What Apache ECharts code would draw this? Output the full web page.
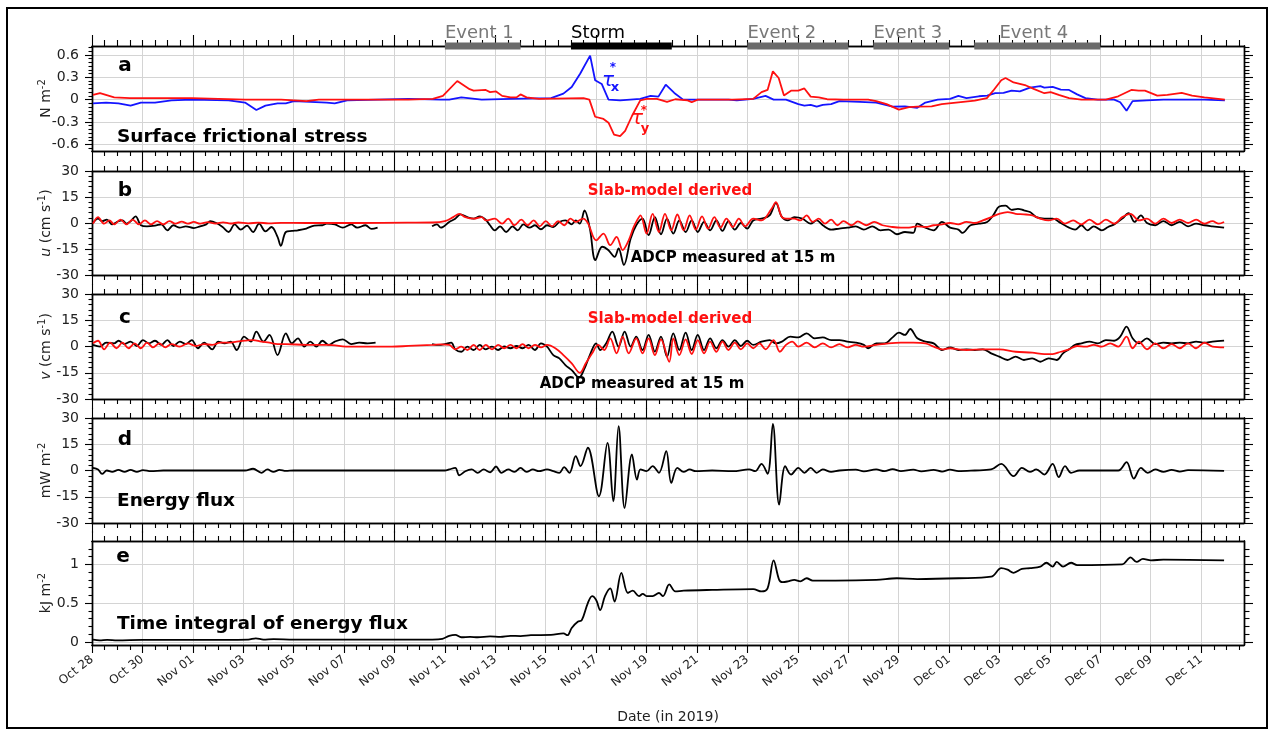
<!DOCTYPE html>
<html><head><meta charset="utf-8">
<script src="https://cdn.jsdelivr.net/npm/echarts@6/dist/echarts.min.js"></script>
<style>html,body{margin:0;padding:0;background:#fff}#c{width:1273px;height:736px}</style>
</head><body><div id="c"></div>
<script>
const FONT = 'DejaVu Sans';
// x values are days since 2019-10-28 00:00
const X_MAX = 45.7;
const dateTickDays = [0,2,4,6,8,10,12,14,16,18,20,22,24,26,28,30,32,34,36,38,40,42,44];
const dateTickLabels = ['Oct 28','Oct 30','Nov 01','Nov 03','Nov 05','Nov 07','Nov 09','Nov 11','Nov 13','Nov 15','Nov 17','Nov 19','Nov 21','Nov 23','Nov 25','Nov 27','Nov 29','Dec 01','Dec 03','Dec 05','Dec 07','Dec 09','Dec 11'];

const eventNames = ['Event 1','Storm','Event 2','Event 3','Event 4'];
const eventStart = [14,19,26,31,35];
const eventEnd = [17,23,30,34,40];
const eventLabelAt = [14,19,26,31,36];

const stressTicks = [-0.6,-0.3,0,0.3,0.6];
const velTicks = [-30,-15,0,15,30];
const fluxTicks = [-30,-15,0,15,30];
const integralTicks = [0,0.5,1];

const tauX = [[0.04,-0.05],[0.56,-0.04],[1.05,-0.05],[1.53,-0.08],[1.94,-0.04],[2.5,-0.04],[3.15,-0.01],[3.96,0],[5.42,-0.01],[6.07,-0.04],[6.52,-0.14],[6.88,-0.08],[7.36,-0.05],[7.69,-0.05],[8.01,-0.02],[9.31,-0.04],[9.63,-0.05],[10.12,-0.01],[12.55,0.01],[13.84,0.0],[14.17,0.0],[14.65,0.03],[15.46,0.0],[16.6,0.01],[18.21,0.02],[18.7,0.08],[19.03,0.17],[19.37,0.35],[19.76,0.59],[19.96,0.26],[20.22,0.21],[20.49,0.0],[20.95,-0.01],[21.75,0.01],[22.16,0.05],[22.47,0.04],[22.76,0.2],[23.1,0.09],[23.45,0.0],[24.6,0.0],[25.25,0.0],[25.58,-0.01],[26.23,0.01],[26.72,0.05],[27.04,0.0],[27.53,0.0],[28.02,-0.06],[28.26,-0.08],[28.51,-0.07],[28.75,-0.095],[28.99,-0.07],[29.32,-0.06],[29.65,-0.02],[30.46,-0.03],[31.11,-0.04],[31.76,-0.095],[32.25,-0.09],[32.74,-0.11],[33.06,-0.04],[33.55,0.0],[34.04,0.01],[34.37,0.05],[34.69,0.02],[35.18,0.045],[35.51,0.054],[35.83,0.086],[36.16,0.09],[36.48,0.12],[36.81,0.11],[37.21,0.16],[37.62,0.18],[37.78,0.16],[38.11,0.17],[38.43,0.135],[38.76,0.13],[39.08,0.07],[39.41,0.02],[39.9,0.0],[40.55,0.0],[40.79,-0.036],[41.04,-0.15],[41.28,-0.02],[41.85,-0.01],[42.5,0.0],[44.13,0.0],[44.94,-0.01]];

const tauY = [[0.04,0.063],[0.32,0.086],[0.88,0.03],[1.5,0.02],[3.96,0.02],[6.07,0.0],[7.5,0.0],[8.5,-0.02],[9.0,0.0],[12.55,0.0],[13.52,0.01],[13.92,0.05],[14.49,0.25],[14.98,0.14],[15.14,0.12],[15.62,0.13],[15.79,0.1],[16.03,0.11],[16.27,0.05],[16.6,0.03],[16.84,0.03],[17.0,0.07],[17.24,0.03],[17.73,0.01],[19.5,0.02],[19.73,0.0],[19.96,-0.23],[20.29,-0.26],[20.49,-0.31],[20.71,-0.47],[20.95,-0.49],[21.15,-0.42],[21.42,-0.22],[21.75,-0.01],[22.01,0.01],[22.41,0.01],[22.81,-0.03],[23.14,0.005],[23.63,-0.01],[23.79,-0.036],[24.03,0.0],[25.42,0.0],[26.23,0.01],[26.56,0.1],[26.8,0.13],[27.01,0.38],[27.24,0.29],[27.45,0.054],[27.73,0.12],[28.02,0.12],[28.26,0.15],[28.51,0.04],[28.83,0.03],[29.16,0.005],[29.81,0.0],[30.79,0.0],[31.11,-0.02],[31.52,-0.06],[32.01,-0.135],[32.41,-0.1],[32.74,-0.095],[33.31,-0.09],[33.71,-0.06],[34.37,-0.036],[35.02,-0.014],[35.5,0.02],[35.75,0.12],[36.07,0.26],[36.24,0.29],[36.56,0.23],[37.05,0.19],[37.38,0.14],[37.78,0.086],[38.03,0.1],[38.35,0.063],[38.76,0.02],[39.25,0.0],[40.22,0.0],[40.71,0.045],[41.23,0.13],[41.52,0.12],[41.77,0.12],[42.26,0.054],[42.66,0.063],[43.23,0.09],[43.64,0.054],[44.13,0.03],[44.94,0.0]];

const uAdcp = [[0.04,0],[0.24,2.5],[0.4,1],[0.59,2],[0.8,-0.8],[1.05,1],[1.21,1.5],[1.37,-0.4],[1.53,1],[1.73,3.8],[1.94,-1.3],[2.18,-1.9],[2.5,-1.5],[2.75,-0.8],[2.99,-4.2],[3.23,-1.3],[3.48,-2.7],[3.72,-1.9],[4.04,-2.9],[4.29,-1.9],[4.53,-0.8],[4.69,1.1],[4.93,0],[5.18,-2.3],[5.42,-5.2],[5.66,-0.8],[5.9,-3.8],[6.15,-1.5],[6.39,-5.2],[6.63,-0.4],[6.88,-4.8],[7.12,-2.3],[7.36,-8],[7.49,-13.2],[7.69,-5.2],[7.93,-4.6],[8.17,-4.2],[8.5,-3.2],[8.82,-1.5],[9.14,-1.3],[9.31,-0.4],[9.63,-0.8],[9.95,-2.7],[10.28,-0.8],[10.52,-2.7],[10.85,-1.3],[11.09,-3.4],[11.33,-2.7],[11.4,null],[13.49,-1.9],[13.68,-0.8],[13.84,-2.7],[14.17,0.6],[14.41,2.5],[14.62,5],[14.89,3.4],[15.14,2.5],[15.38,3.8],[15.62,1.9],[15.79,-1.3],[15.98,-4.2],[16.19,-1.9],[16.43,-5.2],[16.68,-1.9],[16.89,-4.2],[17.11,-0.8],[17.36,-2.7],[17.57,-1.3],[17.81,-3.6],[18.05,-1.3],[18.3,-2.3],[18.54,0.6],[18.78,1.5],[19.03,-0.8],[19.19,1.5],[19.35,-0.4],[19.54,7.2],[19.75,-3.2],[19.97,-21.4],[20.24,-13.7],[20.48,-15.6],[20.73,-19.5],[20.89,-14.7],[21.1,-24.2],[21.37,-9],[21.59,-1.3],[21.84,2.5],[22.08,-7],[22.33,3.4],[22.57,-6.5],[22.81,2.5],[23.06,-6.1],[23.3,1.5],[23.55,-5.2],[23.79,1.5],[24.03,-5.2],[24.28,0.6],[24.52,-4.2],[24.77,1.5],[25.01,-4.6],[25.25,1.1],[25.5,-3.8],[25.74,0],[25.99,-3.2],[26.23,1.5],[26.56,2.5],[26.88,4.4],[27.13,11.5],[27.37,3.4],[27.61,1.5],[27.86,3.4],[28.18,2.5],[28.51,-0.4],[28.75,1.5],[28.99,-1.3],[29.32,-3.8],[29.65,-3.2],[29.97,-2.7],[30.3,-1.9],[30.62,-3.8],[30.95,-1.9],[31.28,-4.2],[31.6,-3.8],[31.93,-6.5],[32.25,-5.2],[32.58,-5.7],[32.74,-0.4],[33.06,-2.7],[33.39,-4.2],[33.72,0.6],[34.04,-2.7],[34.37,-3.8],[34.53,-5.7],[34.85,-1.3],[35.18,-0.4],[35.51,0.6],[35.75,4.4],[35.99,9.5],[36.24,10],[36.48,7.6],[36.73,8.2],[36.97,7.3],[37.21,6.3],[37.46,3.4],[37.78,2.5],[38.11,2.5],[38.43,0],[38.76,-2.7],[39.0,-3.8],[39.25,-1.3],[39.49,-4.2],[39.74,-1.9],[40.06,-4.2],[40.31,-2.3],[40.55,-0.8],[40.87,2.5],[41.12,5.7],[41.36,0.6],[41.61,4.4],[41.85,0],[42.18,-1.3],[42.5,1.1],[42.83,-1.3],[43.15,0.6],[43.48,-1.9],[43.8,-0.4],[44.13,-1.3],[44.45,-1.9],[44.91,-2.7]];

const uSlab = [[0.04,-0.4],[0.24,3.4],[0.48,-0.4],[0.69,1.5],[0.88,-0.8],[1.13,2],[1.37,-0.8],[1.61,2],[1.86,-0.8],[2.1,1.5],[2.34,-0.8],[2.58,1.1],[2.83,-0.8],[3.07,1.1],[3.31,-0.4],[3.56,0.8],[3.8,-0.4],[4.04,0.6],[4.29,-0.4],[4.6,0.5],[4.9,-0.3],[5.2,0.4],[5.5,-0.3],[5.8,0.3],[6.2,-0.2],[6.6,0.2],[7.0,-0.2],[7.5,0.1],[8.5,0],[10.5,0],[12.5,0.2],[13.52,0.3],[14.0,1.1],[14.33,3.4],[14.57,5.3],[14.81,3.4],[15.14,2.5],[15.46,3.4],[15.62,1.5],[15.98,2.5],[16.27,-0.4],[16.51,2.5],[16.76,-1.3],[17.03,1.9],[17.28,-1.3],[17.52,1.5],[17.76,-1.9],[18.0,1.1],[18.25,-1.9],[18.49,1.1],[18.73,-1.3],[18.98,2.5],[19.19,0.6],[19.48,2.5],[19.67,0],[20.0,-10],[20.29,-6.1],[20.56,-12.8],[20.81,-8],[21.05,-15.6],[21.29,-10],[21.47,-3],[21.62,1.5],[21.76,4.4],[22.0,-6.1],[22.24,5.3],[22.49,-5.2],[22.73,5.3],[22.98,-4.2],[23.22,4.9],[23.47,-4.2],[23.71,4.4],[23.95,-3.8],[24.2,3.8],[24.44,-3.2],[24.69,3.4],[24.93,-2.7],[25.17,2.5],[25.42,-2.3],[25.66,2.5],[25.91,-1.9],[26.23,2.5],[26.56,1.5],[26.96,8.2],[27.13,12],[27.37,3.4],[27.61,2.5],[27.86,2.5],[28.1,1.5],[28.35,4.4],[28.59,0.6],[28.83,2.5],[29.08,-0.4],[29.32,1.9],[29.57,-1.3],[29.81,1.1],[30.14,-1.3],[30.38,0.9],[30.71,-1.3],[31.03,0.6],[31.36,-1.3],[31.76,-2.3],[32.09,-2.7],[32.41,-2.7],[32.74,-1.9],[33.06,-2.3],[33.39,-1.3],[33.72,-0.8],[34.04,0],[34.37,-0.8],[34.69,0.6],[35.02,0],[35.34,1.5],[35.67,3.4],[35.99,5.3],[36.32,6.3],[36.64,5.3],[36.97,5],[37.3,4.4],[37.62,2.5],[37.95,1.5],[38.27,2.5],[38.6,-0.4],[38.92,1.5],[39.25,-0.8],[39.57,1.9],[39.9,-0.8],[40.22,1.9],[40.55,-0.4],[40.87,3.4],[41.2,5.3],[41.53,1.5],[41.85,2.5],[42.18,-0.4],[42.5,2.5],[42.83,0],[43.15,1.9],[43.48,0],[43.8,1.9],[44.13,-0.4],[44.45,1.1],[44.7,-0.4],[44.91,0.6]];

const vAdcp = [[0.04,0.9],[0.32,-0.1],[0.56,2.2],[0.88,1.8],[1.05,3.3],[1.29,1.4],[1.53,2.8],[1.78,0.3],[2.02,3.7],[2.26,1.8],[2.5,3.3],[2.75,0.9],[2.99,3.7],[3.23,0.3],[3.48,2.8],[3.72,1.4],[3.96,3.7],[4.2,-1.0],[4.45,2.2],[4.77,-1.6],[5.01,2.8],[5.26,1.8],[5.5,2.8],[5.74,-2.0],[6.03,5.6],[6.31,2.8],[6.52,8.5],[6.8,2.8],[7.04,6.6],[7.36,-4.9],[7.69,7.5],[7.93,1.8],[8.17,4.7],[8.42,-0.1],[8.66,2.8],[8.9,-0.1],[9.14,3.3],[9.39,0.9],[9.63,2.8],[9.95,4.1],[10.28,1.4],[10.6,2.2],[10.93,1.8],[11.25,2.2],[11.33,null],[13.49,1.4],[13.76,0.9],[14.0,1.4],[14.25,2.2],[14.41,-1.6],[14.65,-3.0],[14.89,-0.1],[15.14,-2.0],[15.38,0.9],[15.62,-1.6],[15.87,-0.1],[16.11,-2.0],[16.35,0],[16.6,-1.0],[16.84,0.3],[17.08,-1.0],[17.32,0.9],[17.57,-2.0],[17.81,1.8],[18.05,-0.1],[18.3,-4.9],[18.54,-6.8],[18.78,-10.6],[19.03,-13.5],[19.32,-17.7],[19.54,-12.5],[19.75,-4.9],[20.0,1.8],[20.16,-2.0],[20.4,1.8],[20.64,8.5],[20.89,-0.1],[21.13,8.5],[21.37,-0.1],[21.59,5.6],[21.84,-2.0],[22.08,6.6],[22.33,-2.9],[22.57,5.6],[22.81,-5.8],[23.06,7.5],[23.3,-2.0],[23.55,7.9],[23.79,-2.0],[24.03,6.6],[24.28,-2.0],[24.52,4.7],[24.77,-1.0],[25.01,3.7],[25.25,-0.1],[25.5,3.7],[25.74,0.3],[25.99,3.3],[26.23,0.9],[26.56,2.8],[26.88,3.7],[27.13,1.8],[27.37,2.8],[27.7,5.6],[28.02,5.2],[28.35,7.5],[28.67,4.7],[28.99,5.2],[29.32,3.7],[29.65,3.7],[29.97,2.8],[30.3,2.2],[30.62,0.9],[30.79,-1.0],[31.11,1.8],[31.44,1.8],[31.76,5.2],[32.01,7.9],[32.25,6.6],[32.46,10.0],[32.74,4.7],[33.06,2.8],[33.39,1.8],[33.72,-2.0],[34.04,-0.5],[34.37,-2.0],[34.69,-1.6],[35.02,-2.0],[35.34,-1.6],[35.67,-3.9],[35.99,-5.8],[36.32,-7.7],[36.64,-5.8],[36.97,-7.7],[37.3,-6.8],[37.62,-8.7],[37.95,-6.8],[38.27,-7.7],[38.52,-3.9],[38.76,-1.6],[39.0,0.9],[39.25,1.8],[39.57,2.8],[39.9,1.8],[40.22,3.7],[40.55,3.3],[40.79,5.6],[41.04,11.4],[41.28,4.7],[41.53,1.8],[41.85,4.7],[42.18,1.4],[42.5,2.2],[42.83,1.8],[43.15,2.2],[43.48,1.8],[43.8,2.8],[44.13,2.2],[44.45,2.8],[44.91,3.3]];

const vSlab = [[0.04,1.8],[0.24,3.3],[0.48,-1.6],[0.72,2.2],[0.97,-1.0],[1.21,2.2],[1.45,-1.0],[1.69,1.8],[1.94,-1.0],[2.18,2.2],[2.42,-0.5],[2.67,1.8],[2.91,-0.5],[3.15,1.4],[3.48,-0.1],[3.8,1.8],[4.12,0.3],[4.45,1.4],[4.77,0.9],[5.1,2.2],[5.42,2.2],[5.74,2.8],[6.07,3.3],[6.39,3.7],[6.72,2.8],[7.04,2.2],[7.36,1.4],[7.69,1.4],[8.5,0.9],[9.31,0.9],[10.28,-0.1],[10.93,-0.1],[11.9,-0.1],[12.55,0.3],[13.52,0.9],[13.84,1.2],[14.17,0.9],[14.41,-1.6],[14.65,-0.1],[14.89,-2.0],[15.14,0.9],[15.38,-2.0],[15.62,0.9],[15.87,-1.6],[16.11,0.9],[16.35,-1.0],[16.6,0.9],[16.84,-1.0],[17.08,1.4],[17.32,-1.0],[17.57,0.9],[17.81,-0.5],[18.05,0.9],[18.38,-1.0],[18.7,-4.9],[19.03,-9.6],[19.35,-15.0],[19.59,-9.6],[19.84,-3.9],[20.08,0.9],[20.32,-2.0],[20.56,4.7],[20.81,-3.9],[21.05,5.6],[21.29,-3.9],[21.59,4.7],[21.84,-3.9],[22.08,4.7],[22.33,-4.9],[22.57,4.1],[22.9,-8.7],[23.06,4.7],[23.3,-4.9],[23.55,4.1],[23.79,-4.3],[24.03,3.7],[24.28,-3.9],[24.52,2.8],[24.77,-3.0],[25.01,2.8],[25.25,-2.0],[25.5,2.2],[25.74,-1.6],[25.99,1.8],[26.23,-1.0],[26.48,1.8],[26.72,-1.6],[27.04,3.7],[27.29,-3.0],[27.53,0.9],[27.78,2.8],[28.02,-0.1],[28.35,2.2],[28.67,-0.5],[28.99,1.8],[29.32,-0.5],[29.65,1.4],[29.97,-0.5],[30.3,0.9],[30.62,-0.1],[31.11,0.9],[31.6,1.8],[32.09,2.2],[32.58,2.2],[33.06,1.8],[33.39,-0.1],[33.72,-1.6],[34.04,-1.0],[34.37,-1.6],[34.69,-2.0],[35.34,-1.6],[35.99,-1.6],[36.64,-3.0],[37.3,-3.5],[37.78,-4.3],[38.11,-4.3],[38.43,-3.0],[38.76,-1.6],[39.08,0.3],[39.41,-0.1],[39.74,0.9],[40.06,-0.1],[40.39,1.8],[40.71,-0.1],[41.04,5.6],[41.28,-1.0],[41.53,2.8],[41.85,-1.6],[42.18,1.8],[42.5,-1.0],[42.83,1.4],[43.15,-1.0],[43.48,1.8],[43.8,-1.0],[44.13,2.2],[44.45,-0.1],[44.91,-0.5]];

const energyFlux = [[0.04,1.5],[0.24,0.6],[0.4,-1.9],[0.59,0],[0.8,-0.8],[1.05,0.4],[1.29,-0.8],[1.53,0.4],[1.78,-0.8],[2.02,0.2],[2.34,-0.4],[2.83,0],[6.07,0],[6.39,1.0],[6.72,-1.3],[6.96,0.6],[7.2,-0.8],[7.44,0.4],[7.69,-0.2],[8.01,0],[14.0,0],[14.17,0.6],[14.41,1.5],[14.57,-2.7],[14.81,-0.4],[15.06,0.6],[15.3,-1.3],[15.54,0.6],[15.79,-1.0],[16.03,2.3],[16.24,-1.3],[16.51,0.6],[16.76,-0.8],[17.0,1.5],[17.24,-0.8],[17.49,0.6],[17.73,-0.4],[18.05,0.6],[18.3,-0.4],[18.54,-1.3],[18.73,1.9],[18.94,-1.3],[19.19,8.2],[19.38,2.5],[19.67,13.0],[20.11,-14.7],[20.45,15.8],[20.68,-17.6],[20.89,25.4],[21.13,-21.4],[21.42,9.2],[21.62,-5.2],[21.76,0.6],[22.0,-0.4],[22.24,2.5],[22.49,-1.3],[22.78,11.1],[22.98,-7.1],[23.22,1.5],[23.47,-0.8],[23.71,0.6],[23.95,-0.4],[24.6,0],[25.42,-0.4],[26.07,0.6],[26.31,-0.4],[26.56,3.8],[26.8,-1.9],[27.01,26.7],[27.26,-19.5],[27.5,2.5],[27.73,-2.3],[28.02,1.5],[28.26,-1.3],[28.51,1.5],[28.75,-1.3],[28.99,0.6],[29.32,-0.8],[29.65,0],[30.3,0.5],[30.62,-0.5],[31.11,0.6],[31.44,-0.4],[31.76,0.8],[32.09,-0.4],[32.58,0.5],[32.9,-0.5],[33.39,0.4],[33.72,-0.6],[34.04,0.5],[34.37,-0.4],[35.02,0],[35.67,0.6],[36.07,3.8],[36.56,-3.2],[36.89,1.5],[37.21,-0.8],[37.46,0.6],[37.78,-2.3],[38.11,3.8],[38.35,-3.8],[38.6,2.5],[38.84,-1.3],[39.17,0],[40.71,0],[41.04,4.8],[41.33,-4.6],[41.61,1.5],[41.88,-1.3],[42.18,0.6],[42.5,-0.8],[42.83,0.4],[43.15,-0.6],[43.48,0.2],[44.91,-0.2]];

const timeIntegral = [[0.04,0.03],[0.3,0.02],[0.6,0.025],[1.0,0.02],[2.0,0.025],[4.0,0.025],[6.2,0.03],[6.5,0.045],[6.8,0.03],[7.2,0.035],[8.0,0.03],[13.5,0.03],[13.9,0.04],[14.17,0.078],[14.41,0.09],[14.65,0.06],[15.0,0.065],[15.3,0.06],[15.79,0.07],[16.2,0.065],[16.6,0.078],[17.0,0.075],[17.41,0.086],[18.21,0.09],[18.7,0.11],[18.86,0.086],[19.03,0.18],[19.27,0.26],[19.43,0.28],[19.67,0.5],[19.84,0.59],[20.0,0.54],[20.16,0.41],[20.35,0.59],[20.56,0.69],[20.73,0.52],[21.0,0.89],[21.26,0.63],[21.45,0.66],[21.7,0.59],[21.85,0.62],[22.0,0.59],[22.24,0.59],[22.49,0.63],[22.65,0.59],[22.9,0.74],[23.14,0.65],[23.47,0.66],[24.6,0.67],[26.23,0.68],[26.56,0.65],[26.8,0.69],[27.04,1.05],[27.26,0.8],[27.4,0.77],[27.61,0.78],[27.86,0.8],[28.1,0.78],[28.35,0.82],[28.59,0.79],[29.49,0.79],[31.11,0.8],[31.93,0.82],[32.74,0.81],[34.37,0.82],[35.67,0.84],[36.07,0.95],[36.32,0.93],[36.56,0.89],[36.89,0.94],[37.21,0.95],[37.62,0.97],[37.86,1.02],[38.11,0.97],[38.27,1.03],[38.52,0.97],[38.84,1.02],[39.08,0.99],[40.87,1.0],[41.2,1.09],[41.44,1.03],[41.69,1.07],[42.01,1.05],[42.5,1.06],[44.91,1.05]];

// ---- layout / styling ----
const GRID_TOPS = [46, 171, 294, 418, 541];
const GRID_H = [105, 104, 105, 105, 104];
const Y_RANGES = [[-0.69,0.72],[-30,30],[-30,30],[-30,30],[-0.04,1.3]];
const GRID_COLOR = '#d4d4d4';
const AXIS_LS = {color:'#000', width:1.4};
const TICK_LS = {color:'#000', width:1.1};

const minorDays = [];
for (let k = 1; k < 92; k++) { const d = k/2; if (d < X_MAX && d % 2 !== 0) minorDays.push(d); }
const topMajorA = dateTickDays.filter(d => d % 4 === 0);
const topMinorA = [];
for (let k = 1; k < 92; k++) { const d = k/2; if (d < X_MAX && d % 4 !== 0) topMinorA.push(d); }
const stressMinor = [];
for (let i = -13; i <= 14; i++) { const v = i*5/100; if (!stressTicks.some(t => Math.abs(t-v) < 1e-9)) stressMinor.push(v); }
const velMinor = [];
for (let v = -27; v <= 27; v += 3) { if (v % 15 !== 0) velMinor.push(v); }
const integralMinor = [];
for (let i = 1; i <= 12; i++) { if (i !== 5 && i !== 10) integralMinor.push(i/10); }

const yMajors = [stressTicks, velTicks, velTicks, fluxTicks, integralTicks];
const yMinors = [stressMinor, velMinor, velMinor, velMinor, integralMinor];
const yNames = ['N m{s|-2}', '{i|u} (cm s{s|-1})', '{i|v} (cm s{s|-1})', 'mW m{s|-2}', 'kJ m{s|-2}'];

const grids = GRID_TOPS.map((t,i) => ({left: 92, right: 29, top: t, height: GRID_H[i]}));

const xAxes = [];
const yAxes = [];
for (let g = 0; g < 5; g++) {
  const base = {gridIndex: g, type: 'value', min: 0, max: X_MAX,
    axisLine: {show: true, onZero: false, lineStyle: AXIS_LS},
    axisLabel: {show: false}, splitLine: {show: false}, minorTick: {show: false}};
  const bottomMajor = Object.assign({}, base, {
    position: 'bottom',
    axisTick: {show: true, inside: false, length: g === 4 ? 8 : 10, customValues: dateTickDays, lineStyle: TICK_LS},
    splitLine: {show: true, lineStyle: {color: GRID_COLOR, width: 1}}
  });
  if (g === 4) {
    bottomMajor.axisLabel = {show: true, customValues: dateTickDays, rotate: 38, fontSize: 12, fontFamily: FONT, color: '#222', margin: 13,
      formatter: v => dateTickLabels[dateTickDays.indexOf(Math.round(v))] || ''};
    bottomMajor.name = 'Date (in 2019)';
    bottomMajor.nameLocation = 'middle';
    bottomMajor.nameGap = 65;
    bottomMajor.nameMoveOverlap = false;
    bottomMajor.nameTextStyle = {fontSize: 14, fontFamily: FONT, color: '#222'};
  }
  xAxes.push(bottomMajor);
  xAxes.push(Object.assign({}, base, {position: 'bottom',
    axisTick: {show: true, inside: false, length: 5, customValues: minorDays, lineStyle: TICK_LS}}));
  xAxes.push(Object.assign({}, base, {position: 'top',
    axisTick: {show: true, inside: false, length: g === 0 ? 11 : 10, customValues: g === 0 ? topMajorA : dateTickDays, lineStyle: TICK_LS}}));
  xAxes.push(Object.assign({}, base, {position: 'top',
    axisTick: {show: true, inside: false, length: g === 0 ? 6 : 5, customValues: g === 0 ? topMinorA : minorDays, lineStyle: TICK_LS}}));

  const yb = {gridIndex: g, type: 'value', min: Y_RANGES[g][0], max: Y_RANGES[g][1],
    axisLine: {show: true, onZero: false, lineStyle: AXIS_LS},
    axisLabel: {show: false}, splitLine: {show: false}, minorTick: {show: false}};
  yAxes.push(Object.assign({}, yb, {position: 'left',
    axisTick: {show: true, inside: false, length: 7, customValues: yMajors[g], lineStyle: TICK_LS},
    axisLabel: {show: true, customValues: yMajors[g], fontSize: 14, fontFamily: FONT, color: '#222', margin: 13,
      formatter: v => (g === 0 && v !== 0) ? v.toFixed(1) : String(v)},
    splitLine: {show: true, lineStyle: {color: GRID_COLOR, width: 1}},
    name: yNames[g], nameLocation: 'middle', nameRotate: 90, nameGap: 37, nameMoveOverlap: false,
    nameTextStyle: {fontSize: 14, fontFamily: FONT, color: '#222', lineHeight: 18,
      rich: {s: {fontSize: 10, lineHeight: 10, verticalAlign: 'top', fontFamily: FONT, color: '#222'},
             i: {fontSize: 14, fontStyle: 'italic', fontFamily: FONT, color: '#222'}}}
  }));
  yAxes.push(Object.assign({}, yb, {position: 'left',
    axisTick: {show: true, inside: false, length: 3.5, customValues: yMinors[g], lineStyle: TICK_LS}}));
  yAxes.push(Object.assign({}, yb, {position: 'right',
    axisTick: {show: true, inside: false, length: 9, customValues: yMajors[g], lineStyle: TICK_LS}}));
  yAxes.push(Object.assign({}, yb, {position: 'right',
    axisTick: {show: true, inside: false, length: 5.5, customValues: yMinors[g], lineStyle: TICK_LS}}));
}

function line(data, g, color, smooth) {
  return {type: 'line', data: data, xAxisIndex: 4*g, yAxisIndex: 4*g, showSymbol: false, symbol: 'none',
    smooth: smooth, connectNulls: false, lineStyle: {color: color, width: 1.8}, itemStyle: {color: color}, z: 3, silent: true};
}

const series = [
  line(tauX, 0, '#1414ff', false),
  line(tauY, 0, '#ff1010', false),
  line(uAdcp, 1, '#000', 0.35),
  line(uSlab, 1, '#ff1010', 0.35),
  line(vAdcp, 2, '#000', 0.35),
  line(vSlab, 2, '#ff1010', 0.35),
  line(energyFlux, 3, '#000', 0.35),
  line(timeIntegral, 4, '#000', 0.35),
  {
    type: 'custom', xAxisIndex: 0, yAxisIndex: 0, clip: false, z: 10, silent: true,
    data: eventNames.map((n, i) => [eventStart[i], eventEnd[i], eventLabelAt[i], i]),
    encode: {x: [0, 1, 2]},
    renderItem: function (params, api) {
      const i = api.value(3);
      const top = Y_RANGES[0][1];
      const p0 = api.coord([api.value(0), top]);
      const p1 = api.coord([api.value(1), top]);
      const pl = api.coord([api.value(2), top]);
      const storm = eventNames[i] === 'Storm';
      return {type: 'group', children: [
        {type: 'rect', shape: {x: p0[0], y: p0[1] - 3.5, width: p1[0] - p0[0], height: 7},
         style: {fill: storm ? '#000' : '#6b6b6b'}},
        {type: 'text', x: pl[0], y: p0[1] - 13,
         style: {text: eventNames[i], fill: storm ? '#000' : '#777', font: '18px "DejaVu Sans"', align: 'left', verticalAlign: 'middle'}}
      ]};
    }
  }
];

function txt(text, x, y, font, fill, align) {
  return {type: 'text', x: x, y: y, z: 20, silent: true,
    style: {text: text, font: font, fill: fill || '#000', align: align || 'center', verticalAlign: 'middle'}};
}
const BOLD_L = 'bold 20px "DejaVu Sans"';
const BOLD_T = 'bold 18.5px "DejaVu Sans"';
const BOLD_S = 'bold 15px "DejaVu Sans"';
const graphic = [
  {type: 'rect', shape: {x: 7, y: 8, width: 1260, height: 720}, style: {fill: 'none', stroke: '#000', lineWidth: 2}, silent: true, z: 30},
  txt('a', 125, 66, BOLD_L), txt('b', 125, 191, BOLD_L), txt('c', 125, 318, BOLD_L), txt('d', 125, 440, BOLD_L), txt('e', 123, 557, BOLD_L),
  txt('Surface frictional stress', 117, 137, BOLD_T, '#000', 'left'),
  txt('Energy flux', 117, 501, BOLD_T, '#000', 'left'),
  txt('Time integral of energy flux', 117, 624, BOLD_T, '#000', 'left'),
  txt('Slab-model derived', 670, 191, BOLD_S, '#ff1010'),
  txt('Slab-model derived', 670, 319, BOLD_S, '#ff1010'),
  txt('ADCP measured at 15 m', 733, 258, BOLD_S, '#000'),
  txt('ADCP measured at 15 m', 642, 384, BOLD_S, '#000'),
  txt('τ', 608, 81, 'italic 20px "DejaVu Sans"', '#1414ff'),
  txt('*', 613, 68, 'bold 12px "DejaVu Sans"', '#1414ff'),
  txt('x', 615, 88, 'bold 13px "DejaVu Sans"', '#1414ff'),
  txt('τ', 637, 119, 'italic 20px "DejaVu Sans"', '#ff1010'),
  txt('*', 644, 111, 'bold 12px "DejaVu Sans"', '#ff1010'),
  txt('y', 645, 129, 'bold 13px "DejaVu Sans"', '#ff1010')
];

const chart = echarts.init(document.getElementById('c'), null, {renderer: 'canvas'});
chart.setOption({
  animation: false,
  backgroundColor: '#fff',
  textStyle: {fontFamily: FONT},
  grid: grids,
  xAxis: xAxes,
  yAxis: yAxes,
  series: series,
  graphic: graphic
});
</script>
</body></html>
